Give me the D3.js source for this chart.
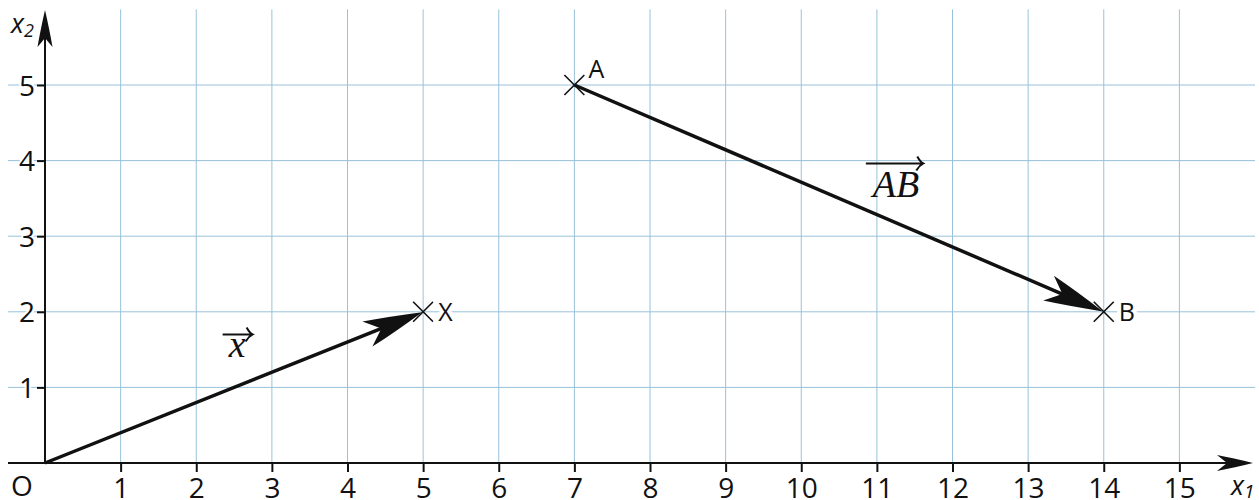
<!DOCTYPE html>
<meta charset="utf-8">
<html>
  <head>
    <style>
      body { margin: 0; background: #fff; }
      .grid line { stroke: #98c2db; stroke-width: 1; }
      .mathLabel {
        font-family: "Liberation Serif", "DejaVu Serif", serif;
        font-style: italic;
        font-size: 38px;
        fill: #111;
      }
    </style>
  </head>
<script src="https://d3js.org/d3.v7.min.js"></script>
<div id="my_dataviz"></div>
<script>

    // values
    var xTicks = [1, 2, 3, 4, 5, 6, 7, 8, 9, 10, 11, 12, 13, 14, 15];
    var yTicks = [1, 2, 3, 4, 5];
    var pointNames = ["X", "A", "B"];
    var pointX = [5, 7, 14];
    var pointY = [2, 5, 2];
    // vectors as [from point, to point], "O" is the origin
    var vectorFrom = ["O", "A"];
    var vectorTo = ["X", "B"];
    var vectorNames = ["x", "AB"];

    var width = 1259, height = 500;
    var sans = "'Open Sans', 'Noto Sans', sans-serif";

    var svg = d3.select("#my_dataviz")
      .append("svg")
        .attr("width", width)
        .attr("height", height);

    var x = d3.scaleLinear().domain([0, 16]).range([45, 1255]);
    var y = d3.scaleLinear().domain([0, 6]).range([463, 9.4]);

    var coords = { O: [0, 0] };
    pointNames.forEach(function(n, i) { coords[n] = [pointX[i], pointY[i]]; });

    function labelStyle(sel, size, halo) {
      sel.attr("font-family", null).attr("font-size", null)
        .style("font-family", sans)
        .style("font-size", size + "px")
        .style("fill", "#111")
        .style("paint-order", "stroke")
        .style("stroke", "#fff")
        .style("stroke-width", halo + "px");
    }

    // grid
    var grid = svg.append("g").attr("class", "grid");
    grid.selectAll(".vgrid")
      .data(xTicks)
      .enter().append("line")
        .attr("x1", d => x(d)).attr("x2", d => x(d))
        .attr("y1", y(0)).attr("y2", y(6));
    grid.selectAll(".hgrid")
      .data(yTicks)
      .enter().append("line")
        .attr("x1", 8).attr("x2", x(16))
        .attr("y1", d => y(d)).attr("y2", d => y(d));

    // axes with ticks
    var xAxis = svg.append("g")
      .attr("transform", "translate(0," + y(0) + ")")
      .call(d3.axisBottom(x).tickValues(xTicks).tickSize(9).tickPadding(6).tickFormat(d3.format("d")));
    xAxis.select("path.domain").remove();
    xAxis.attr("font-size", null).attr("font-family", null);
    xAxis.selectAll(".tick line").attr("stroke", "#111").attr("stroke-width", 2);
    labelStyle(xAxis.selectAll(".tick text"), 28, 4);

    var yAxis = svg.append("g")
      .attr("transform", "translate(" + x(0) + ",0)")
      .call(d3.axisLeft(y).tickValues(yTicks).tickSize(8).tickPadding(2).tickFormat(d3.format("d")));
    yAxis.select("path.domain").remove();
    yAxis.attr("font-size", null).attr("font-family", null);
    yAxis.selectAll(".tick line").attr("stroke", "#111").attr("stroke-width", 2);
    labelStyle(yAxis.selectAll(".tick text").attr("dy", "0.36em"), 28, 4);

    // origin label
    labelStyle(svg.append("text")
      .attr("x", 22).attr("y", 496)
      .attr("text-anchor", "middle")
      .text("O"), 28, 0);

    // stealth style arrow head: tip, unit direction, length, half width, notch
    function headPath(tx, ty, dx, dy, len, half, notch) {
      var nx = -dy, ny = dx;
      var bx = tx - len * dx, by = ty - len * dy;
      var c1 = [bx + half * nx, by + half * ny];
      var c2 = [bx - half * nx, by - half * ny];
      var nb = [tx - notch * dx, ty - notch * dy];
      var m1 = [tx - len * 0.55 * dx + half * 0.62 * nx, ty - len * 0.55 * dy + half * 0.62 * ny];
      var m2 = [tx - len * 0.55 * dx - half * 0.62 * nx, ty - len * 0.55 * dy - half * 0.62 * ny];
      return "M" + tx + "," + ty +
        "Q" + m1[0] + "," + m1[1] + " " + c1[0] + "," + c1[1] +
        "L" + nb[0] + "," + nb[1] +
        "L" + c2[0] + "," + c2[1] +
        "Q" + m2[0] + "," + m2[1] + " " + tx + "," + ty + "Z";
    }

    // x axis line + arrow
    var axTip = x(16) - 2;
    svg.append("line")
      .attr("x1", 8).attr("x2", axTip - 20)
      .attr("y1", y(0)).attr("y2", y(0))
      .attr("stroke", "#111").attr("stroke-width", 2);
    svg.append("path")
      .attr("d", headPath(axTip, y(0), 1, 0, 36, 8, 26))
      .attr("fill", "#111");

    // y axis line + arrow
    var ayTip = y(6) + 0.6;
    svg.append("line")
      .attr("x1", x(0)).attr("x2", x(0))
      .attr("y1", y(0)).attr("y2", ayTip + 20)
      .attr("stroke", "#111").attr("stroke-width", 2);
    svg.append("path")
      .attr("d", headPath(x(0), ayTip, 0, -1, 37, 7.5, 28))
      .attr("fill", "#111");

    // axis names
    var xName = svg.append("text")
      .attr("x", 1231).attr("y", 495)
      .style("font-family", sans).style("font-style", "italic").style("fill", "#111").style("font-size", "27px");
    xName.append("tspan").text("x");
    xName.append("tspan").attr("dy", 3).style("font-size", "19px").text("1");

    var yName = svg.append("text")
      .attr("x", 11).attr("y", 33)
      .style("font-family", sans).style("font-style", "italic").style("fill", "#111").style("font-size", "27px");
    yName.append("tspan").text("x");
    yName.append("tspan").attr("dy", 4).style("font-size", "18px").text("2");

    // vectors
    vectorFrom.forEach(function(f, i) {
      var p0 = coords[f], p1 = coords[vectorTo[i]];
      var x0 = x(p0[0]), y0 = y(p0[1]), x1 = x(p1[0]), y1 = y(p1[1]);
      var L = Math.hypot(x1 - x0, y1 - y0);
      var dx = (x1 - x0) / L, dy = (y1 - y0) / L;
      svg.append("line")
        .attr("x1", x0).attr("y1", y0)
        .attr("x2", x1 - 40 * dx).attr("y2", y1 - 40 * dy)
        .attr("stroke", "#111").attr("stroke-width", 3.5);
      svg.append("path")
        .attr("d", headPath(x1 - 1 * dx, y1 - 1 * dy, dx, dy, 59, 13.5, 44))
        .attr("fill", "#111");
    });

    // point markers and names
    var cross = 10;
    pointNames.forEach(function(n, i) {
      var cx = x(pointX[i]), cy = y(pointY[i]);
      svg.append("path")
        .attr("d", "M" + (cx - cross) + "," + (cy - cross) + "L" + (cx + cross) + "," + (cy + cross) +
                   "M" + (cx - cross) + "," + (cy + cross) + "L" + (cx + cross) + "," + (cy - cross))
        .attr("stroke", "#111").attr("stroke-width", 1.6).attr("fill", "none");
    });
    var labelOffset = { X: [15, 9], A: [14, -7], B: [15, 9] };
    pointNames.forEach(function(n, i) {
      labelStyle(svg.append("text")
        .attr("x", x(pointX[i]) + labelOffset[n][0])
        .attr("y", y(pointY[i]) + labelOffset[n][1])
        .text(n), 25, 8);
    });

    // vector names with arrow above, placed relative to the vector midpoint
    var nameOffset = { x: [3, -30], AB: [57, -1] };
    vectorFrom.forEach(function(f, i) {
      var p0 = coords[f], p1 = coords[vectorTo[i]];
      var mx = x((p0[0] + p1[0]) / 2), my = y((p0[1] + p1[1]) / 2);
      var name = vectorNames[i];
      var tx = mx + nameOffset[name][0], ty = my + nameOffset[name][1];
      var t = svg.append("text").attr("class", "mathLabel")
        .attr("x", tx).attr("y", ty)
        .attr("text-anchor", "middle")
        .text(name);
      var bb = t.node().getBBox();
      var ax0 = bb.x - 4, ax1 = bb.x + bb.width + 4, ay = ty - 23;
      if (name === "x") { ay = ty - 23; ax0 = bb.x - 5; ax1 = bb.x + bb.width + 7; }
      if (name === "AB") { ay = ty - 34; }
      svg.append("path")
        .attr("d", "M" + ax0 + "," + ay + "L" + ax1 + "," + ay +
                   "M" + (ax1 - 6) + "," + (ay - 7) + "Q" + (ax1 - 3) + "," + (ay - 1.5) + " " + ax1 + "," + ay +
                   "Q" + (ax1 - 4) + "," + (ay + 2) + " " + (ax1 - 7) + "," + (ay + 7))
        .attr("stroke", "#111").attr("stroke-width", 2).attr("fill", "none");
    });

</script>
</html>
